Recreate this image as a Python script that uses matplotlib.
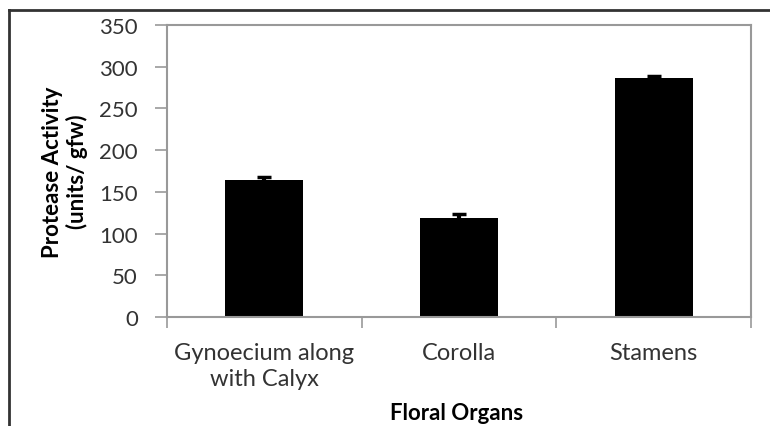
import matplotlib
matplotlib.use('Agg')
import matplotlib.pyplot as plt
from matplotlib.lines import Line2D

organs = ['Gynoecium along\nwith Calyx', 'Corolla', 'Stamens']
activity = [164, 119, 286]
err = [4, 4, 3]

plt.rcParams['font.family'] = ['Lato', 'DejaVu Sans']

fig = plt.figure(figsize=(7.7, 4.27), dpi=100)
ax = fig.add_axes([167/770, 1-318/427, (751-167)/770, (318-26)/427])

x = range(len(organs))
ax.bar(x, activity, width=0.4, color='black')
ax.errorbar(x, activity, yerr=err, fmt='none', ecolor='black', elinewidth=3,
            capsize=5, capthick=2.5)

ax.set_xlim(-0.5, 2.5)
ax.set_ylim(0, 350)
ax.set_yticks(range(0, 351, 50))
ax.set_xticks([-0.5, 0.5, 1.5, 2.5], minor=False)
ax.set_xticklabels([])
ax.set_xticks(list(x), minor=True)
ax.set_xticklabels(organs, minor=True, fontsize=17, color='#333333',
                   linespacing=1.3)
ax.tick_params(axis='x', which='minor', length=0, pad=18)
ax.tick_params(axis='x', which='major', length=8, color='#999999', width=1.2)
ax.tick_params(axis='y', length=9, color='#999999', width=1.2, labelsize=16,
               labelcolor='#333333', pad=12)
for s in ax.spines.values():
    s.set_color('#999999')
    s.set_linewidth(1.5)

ax.set_ylabel('Protease Activity\n(units/ gfw)', fontsize=16, fontweight='bold',
              linespacing=1.15)
ax.yaxis.set_label_coords(-0.135, 0.5)
ax.set_xlabel('Floral Organs', fontsize=16, fontweight='bold')
ax.xaxis.set_label_coords(0.495, (318-403)/292)

# outer frame (cut off at right and bottom)
fig.add_artist(Line2D([9/770, 1], [1-11/427, 1-11/427], color='#333333', lw=2,
                      transform=fig.transFigure))
fig.add_artist(Line2D([9/770, 9/770], [0, 1-11/427], color='#333333', lw=2,
                      transform=fig.transFigure))

fig.savefig('out.png', dpi=100)
